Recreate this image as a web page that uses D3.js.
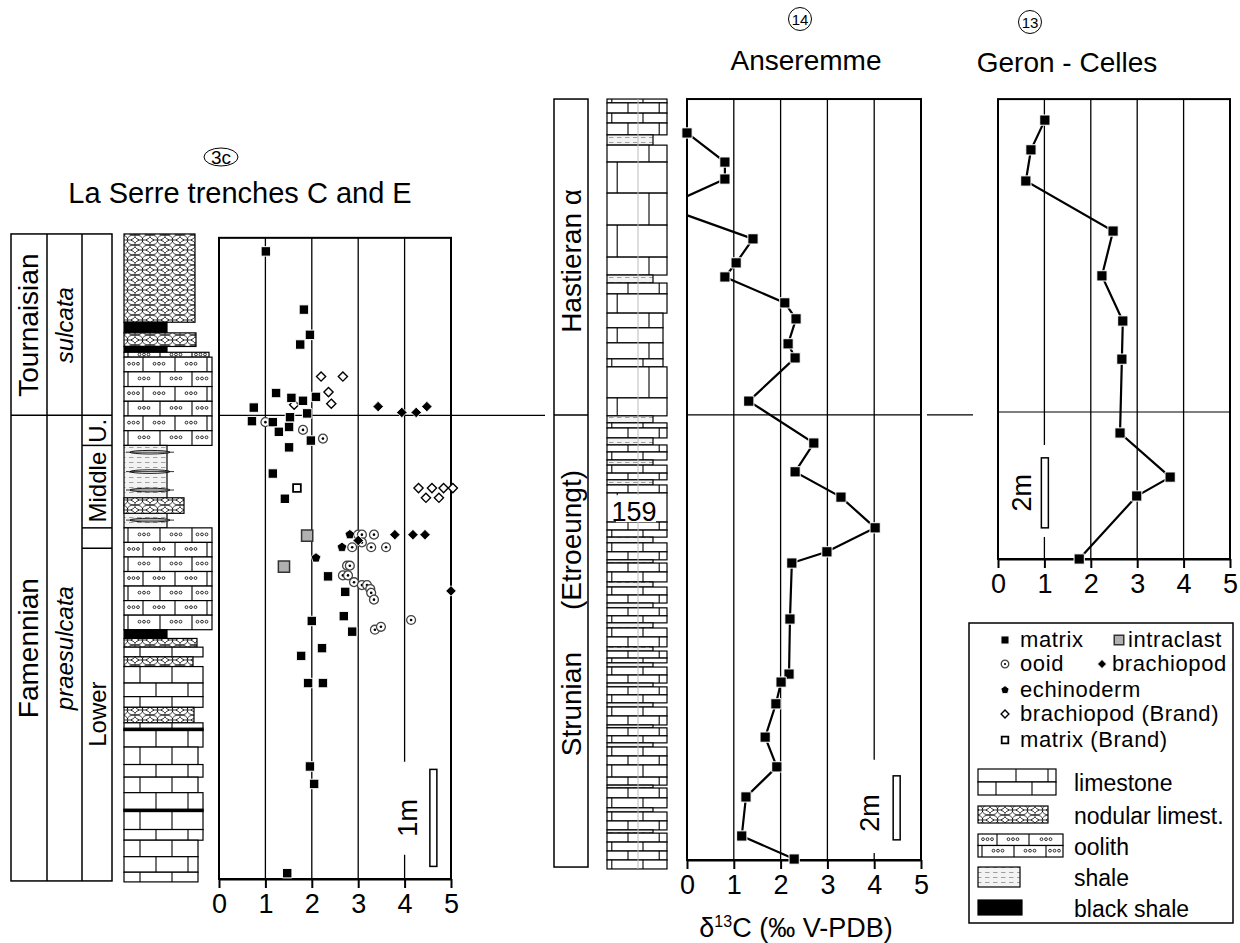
<!DOCTYPE html>
<html>
<head>
<meta charset="utf-8">
<script src="https://cdnjs.cloudflare.com/ajax/libs/d3/7.8.5/d3.min.js"></script>
<style>
  body { margin: 0; background: #fff; }
  svg text { font-family: "Liberation Sans", Arial, sans-serif; fill: #000; }
</style>
</head>
<body>
<script>
const xTicks = [0, 1, 2, 3, 4, 5];

// La Serre trenches C and E : [d13C permil, height m]
const lsMatrix = [[1.01,6.47],[1.83,5.87],[1.96,5.61],[1.75,5.51],[1.23,5.01],[1.56,4.96],[1.81,4.93],[2.09,4.97],
  [0.75,4.86],[0.71,4.72],[1.16,4.71],[1.53,4.76],[1.90,4.80],[1.51,4.66],[1.29,4.61],[1.98,4.52],[1.51,4.45],
  [1.16,4.18],[1.42,3.92],[2.35,3.12],[2.72,2.96],[2.69,2.71],[2.00,2.66],[2.87,2.55],[2.22,2.38],[1.77,2.30],
  [1.92,2.02],[2.24,2.02],[1.96,1.16],[2.05,0.98],[1.47,0.06]];
const lsIntraclast = [[1.90,3.54],[1.40,3.22]];
const lsMatrixBrand = [[1.68,4.03]];
const lsBrachBrand = [[2.20,5.18],[2.67,5.18],[2.36,5.02],[2.42,4.90],[1.62,4.89],[4.30,4.03],[4.59,4.03],
  [4.84,4.03],[5.04,4.03],[4.46,3.93],[4.74,3.93]];
const lsBrachiopod = [[3.43,4.87],[3.94,4.81],[4.25,4.81],[4.48,4.87],[3.79,3.55],[4.18,3.55],[4.44,3.55],[5.0,2.97],[3.0,3.49]];
const lsEchinoderm = [[2.82,3.55],[2.65,3.42],[2.09,3.31]];
const lsOoid = [[1.0,4.71],[1.81,4.63],[2.24,4.54],[3.0,3.55],[3.08,3.55],[3.34,3.55],[2.87,3.42],[3.08,3.47],
  [3.28,3.42],[3.60,3.42],[2.76,3.23],[2.82,3.23],[2.67,3.13],[2.78,3.13],[2.91,3.06],[3.08,3.03],[3.19,3.03],
  [3.26,2.99],[3.28,2.95],[3.34,2.88],[4.14,2.67],[3.36,2.57],[3.49,2.60]];

// Anseremme : [d13C, height m]  (fourth point lies off the chart, left of 0)
const anseData = [[0,22.72],[0.81,21.81],[0.81,21.28],[-0.5,20.41],[1.41,19.41],[1.05,18.66],[0.81,18.22],
  [2.09,17.41],[2.33,16.91],[2.16,16.13],[2.31,15.69],[1.32,14.34],[2.71,13.03],[2.31,12.13],[3.29,11.34],
  [4.02,10.38],[2.99,9.63],[2.24,9.28],[2.20,7.53],[2.18,5.81],[2.01,5.56],[1.90,4.88],[1.67,3.84],[1.92,2.91],
  [1.26,1.97],[1.17,0.75],[2.29,0.03]];

// Geron - Celles : [d13C, height m]
const geronData = [[1.01,12.54],[0.71,11.69],[0.60,10.80],[2.48,9.37],[2.24,8.09],[2.69,6.80],[2.67,5.71],
  [2.63,3.60],[3.71,2.34],[2.99,1.80],[1.75,0]];

// La Serre lithology : [lithology, top m, base m, profile]
const lsBeds = [
  ["nodular",6.65,5.74,3.55],["black",5.74,5.63,2.15],["nodular",5.63,5.49,3.6],["black",5.49,5.43,2.15],
  ["oolith",5.43,5.38,4.25],["oolith",5.38,4.47,4.4],["shale",4.47,3.62,2.15],["nodular",3.93,3.77,3.0],
  ["oolith",3.62,2.57,4.4],["black",2.57,2.48,2.15],["nodular",2.48,2.39,3.65],["limestone",2.39,2.29,3.95],
  ["nodular",2.29,2.19,3.45],["limestone",2.19,2.02,3.95],["limestone",2.02,1.88,3.95],["limestone",1.88,1.77,3.95],
  ["nodular",1.77,1.61,3.5],["limestone",1.61,1.54,3.95],["limestone",1.54,1.36,3.95],["limestone",1.36,1.18,3.7],
  ["limestone",1.18,1.05,3.95],["limestone",1.05,0.89,3.7],["limestone",0.89,0.71,3.95],["limestone",0.71,0.51,3.95],
  ["limestone",0.51,0.40,3.95],["limestone",0.40,0.23,3.7],["limestone",0.23,0.07,3.7],["limestone",0.07,-0.03,3.7],
  ["black",1.555,1.53,3.95],["black",0.72,0.695,3.95]];
const lsLenses = [4.40, 4.20, 4.01, 3.70];

// Anseremme lithology : bedding planes (m) and shale intervals [top, base]
const anseLevels = [23.78,23.66,23.34,23.03,22.66,22.34,21.81,20.84,19.84,18.84,18.28,18.03,17.69,17.09,16.63,16.16,
  15.66,15.41,14.44,13.88,13.66,13.5,13.19,12.97,12.75,12.5,12.34,12.09,11.88,11.72,11.47,10.56,10.31,10.09,9.91,
  9.63,9.38,9.28,9.0,8.69,8.53,8.28,8.03,7.88,7.63,7.41,7.25,6.97,6.66,6.53,6.31,6.16,6.03,5.78,5.53,5.41,5.16,
  4.91,4.78,4.5,4.22,4.13,3.88,3.66,3.53,3.25,2.97,2.59,2.34,2.25,1.94,1.63,1.5,1.22,0.94,0.84,0.56,0.28,0,-0.28];
const anseShale = [[22.66,22.34],[18.28,18.03],[13.88,13.66],[13.19,12.97],[12.5,12.34],[11.88,11.72],[10.09,9.91],
  [9.38,9.28],[8.69,8.53],[8.03,7.88],[7.41,7.25],[6.66,6.53],[6.16,6.03],[5.53,5.41],[4.91,4.78],[4.22,4.13],
  [3.66,3.53],[2.34,2.25],[1.63,1.5],[0.94,0.84]];
const anseNarrow = [17.09, 15.41];

const legendPoints = [
  ["matrix","matrix",0,0],["intraclast","intraclast",1,0],["ooid","ooid",0,1],["brachiopod","brachiopod",1,1],
  ["echinoderm","echinoderm",0,2],["brachBrand","brachiopod (Brand)",0,3],["matrixBrand","matrix (Brand)",0,4]];
const legendLith = [["limestone","limestone"],["nodular","nodular limest."],["oolith","oolith"],["shale","shale"],["black","black shale"]];

// ---------------------------------------------------------------
const svg = d3.select("body").append("svg").attr("width", 1240).attr("height", 943);
const defs = svg.append("defs");

const nod = defs.append("pattern").attr("id", "nodular").attr("patternUnits", "userSpaceOnUse")
  .attr("width", 15).attr("height", 10);
nod.append("rect").attr("width", 15).attr("height", 10).attr("fill", "#fff");
[[7.5,5],[0,0],[15,0],[0,10],[15,10]].forEach(([cx, cy]) => {
  nod.append("ellipse").attr("cx", cx).attr("cy", cy).attr("rx", 8).attr("ry", 5.3)
    .attr("fill", "none").attr("stroke", "#000").attr("stroke-width", 0.8);
});
const sh = defs.append("pattern").attr("id", "shale").attr("patternUnits", "userSpaceOnUse")
  .attr("width", 8).attr("height", 5);
sh.append("rect").attr("width", 8).attr("height", 5).attr("fill", "#f3f3f3");
sh.append("line").attr("x1", 1).attr("x2", 5.5).attr("y1", 2.5).attr("y2", 2.5)
  .attr("stroke", "#8a8a8a").attr("stroke-width", 0.8);

const rhombus = { draw(ctx, size) { const r = Math.sqrt(size / 2);
  ctx.moveTo(0, -r); ctx.lineTo(r, 0); ctx.lineTo(0, r); ctx.lineTo(-r, 0); ctx.closePath(); } };
const pentagon = { draw(ctx, size) { const r = Math.sqrt(size / 2.378);
  for (let i = 0; i < 5; i++) { const a = -Math.PI / 2 + i * 2 * Math.PI / 5;
    i ? ctx.lineTo(r * Math.cos(a), r * Math.sin(a)) : ctx.moveTo(r * Math.cos(a), r * Math.sin(a)); }
  ctx.closePath(); } };

const markerStyle = {
  matrix:      { type: d3.symbolSquare, size: 90, fill: "#000", stroke: "#fff", sw: 1 },
  intraclast:  { type: d3.symbolSquare, size: 125, fill: "#b0b0b0", stroke: "#333", sw: 1.5 },
  ooid:        { type: d3.symbolCircle, size: 62, fill: "#fff", stroke: "#444", sw: 1.3, dot: true },
  brachiopod:  { type: rhombus, size: 55, fill: "#000", stroke: "#fff", sw: 0.8 },
  echinoderm:  { type: pentagon, size: 62, fill: "#000", stroke: "#fff", sw: 0.8 },
  brachBrand:  { type: rhombus, size: 42, fill: "#fff", stroke: "#000", sw: 1.4 },
  matrixBrand: { type: d3.symbolSquare, size: 60, fill: "#fff", stroke: "#000", sw: 1.8 }
};

function drawMarkers(g, data, kind, x, y, k = 1) {
  const st = markerStyle[kind];
  const sel = g.append("g").selectAll("g").data(data).join("g")
    .attr("transform", d => `translate(${x(d[0])},${y(d[1])})`);
  sel.append("path").attr("d", d3.symbol(st.type, st.size * k * k))
    .attr("fill", st.fill).attr("stroke", st.stroke).attr("stroke-width", st.sw);
  if (st.dot) sel.append("circle").attr("r", 1.3 * k).attr("fill", "#000");
}

function hText(g, x, y, str, size, anchor = "middle") {
  return g.append("text").attr("x", x).attr("y", y).attr("text-anchor", anchor)
    .style("font-size", size + "px").text(str);
}
function vText(g, x, y, str, size, italic) {
  return g.append("text").attr("transform", `translate(${x},${y}) rotate(-90)`)
    .attr("text-anchor", "middle").attr("dominant-baseline", "central")
    .style("font-size", size + "px").style("font-style", italic ? "italic" : null).text(str);
}

// brick beds -------------------------------------------------------
function brickRow(g, x, y0, y1, w, joints, dots) {
  g.append("rect").attr("x", x).attr("y", y0).attr("width", w).attr("height", y1 - y0)
    .attr("fill", "#fff").attr("stroke", "#000").attr("stroke-width", 1.2);
  joints.forEach(jx => g.append("line").attr("x1", jx).attr("x2", jx).attr("y1", y0).attr("y2", y1)
    .attr("stroke", "#000").attr("stroke-width", 1.1));
  if (dots) {
    const edges = [x, ...joints, x + w];
    for (let i = 0; i < edges.length - 1; i++) {
      if (edges[i + 1] - edges[i] < 10) continue;
      const cx = (edges[i] + edges[i + 1]) / 2;
      [-4.5, 0, 4.5].forEach(o => g.append("circle").attr("cx", cx + o).attr("cy", y0 + (y1 - y0) * 0.45)
        .attr("r", 1.4).attr("fill", "#fff").attr("stroke", "#000").attr("stroke-width", 0.8));
    }
  }
}
function jointsFor(x, w, brick, phase) {
  const xs = [];
  for (let jx = x + phase; jx < x + w - 3; jx += brick) if (jx > x + 3) xs.push(jx);
  return xs;
}

function drawLith(g, kind, x, y0, y1, w, row) {
  if (kind === "limestone") {
    brickRow(g, x, y0, y1, w, jointsFor(x, w, 32, row % 2 ? 16 : 32), false);
  } else if (kind === "oolith") {
    const n = Math.max(1, Math.round((y1 - y0) / 15)), rh = (y1 - y0) / n;
    for (let i = 0; i < n; i++) {
      brickRow(g, x, y0 + i * rh, y0 + (i + 1) * rh, w, jointsFor(x, w, 32, (row + i) % 2 ? 19 : 4), true);
    }
  } else {
    const fill = kind === "nodular" ? "url(#nodular)" : kind === "shale" ? "url(#shale)" : "#000";
    g.append("rect").attr("x", x).attr("y", y0).attr("width", w).attr("height", Math.max(1, y1 - y0))
      .attr("fill", fill).attr("stroke", "#000").attr("stroke-width", 1.2);
  }
}

// panels -------------------------------------------------------------
const panels = {
  ls:    { x0: 219, x1: 451, yBase: 879, hTop: 6.61, pxm: 97, gapAt: 4, gap: [1.21, 0.25],
           bar: [4.62, 1.13, 0.13], label: "1m", labelAt: [4.08, 0.63] },
  anse:  { x0: 687, x1: 921, yBase: 860, hTop: 23.78, pxm: 32, gapAt: 4, gap: [3.13, 0.22],
           bar: [4.48, 2.63, 0.63], label: "2m", labelAt: [3.92, 1.47] },
  geron: { x0: 998, x1: 1230, yBase: 559, hTop: 13.14, pxm: 35, gapAt: 1, gap: [3.26, 0.63],
           bar: [1.01, 2.89, 0.89], label: "2m", labelAt: [0.52, 1.89] }
};

function setupPanel(p) {
  p.x = d3.scaleLinear().domain([0, 5]).range([p.x0, p.x1]);
  p.y = d3.scaleLinear().domain([0, p.hTop]).range([p.yBase, p.yBase - p.hTop * p.pxm]);
  const g = svg.append("g");
  // grid
  xTicks.slice(1, -1).forEach(v => {
    const segs = v === p.gapAt ? [[p.hTop, p.gap[0]], [p.gap[1], 0]] : [[p.hTop, 0]];
    segs.forEach(([a, b]) => g.append("line").attr("x1", p.x(v)).attr("x2", p.x(v))
      .attr("y1", p.y(a)).attr("y2", p.y(b)).attr("stroke", "#000").attr("stroke-width", 1.3));
  });
  g.append("rect").attr("x", p.x0).attr("y", p.y(p.hTop)).attr("width", p.x1 - p.x0)
    .attr("height", p.y(0) - p.y(p.hTop)).attr("fill", "none").attr("stroke", "#000").attr("stroke-width", 2);
  const ax = g.append("g").attr("transform", `translate(0,${p.yBase})`)
    .call(d3.axisBottom(p.x).tickValues(xTicks).tickSize(9).tickSizeOuter(0).tickPadding(6).tickFormat(d3.format("d")));
  ax.attr("font-family", null).attr("font-size", null);
  ax.select(".domain").attr("stroke-width", 2);
  ax.selectAll(".tick line").attr("stroke-width", 2);
  ax.selectAll(".tick text").style("font-size", "27px");
  // scale bar
  g.append("rect").attr("x", p.x(p.bar[0]) - 3.5).attr("y", p.y(p.bar[1])).attr("width", 7)
    .attr("height", p.y(p.bar[2]) - p.y(p.bar[1])).attr("fill", "#fff").attr("stroke", "#000").attr("stroke-width", 1.5);
  vText(g, p.x(p.labelAt[0]), p.y(p.labelAt[1]), p.label, 27);
  p.g = g;
  return p;
}
Object.values(panels).forEach(setupPanel);

// ---------------------------------------------------------------- La Serre
const ls = panels.ls;
const lsCol = svg.append("g");
const colX = 124, profW = 20;
let limeRow = 0;
lsBeds.forEach(([kind, top, base, prof]) => {
  drawLith(lsCol, kind, colX, ls.y(top), ls.y(base), prof * profW, limeRow++);
});
lsLenses.forEach(h => {
  lsCol.append("ellipse").attr("cx", colX + 26).attr("cy", ls.y(h)).attr("rx", 20).attr("ry", 1.8)
    .attr("fill", "#fff").attr("stroke", "#000").attr("stroke-width", 0.9);
  lsCol.append("line").attr("x1", colX + 2).attr("x2", colX + 50).attr("y1", ls.y(h)).attr("y2", ls.y(h))
    .attr("stroke", "#000").attr("stroke-width", 0.8);
});

// stratigraphic units
const lsUnits = svg.append("g");
const bx = [11, 47, 82, 112];
lsUnits.append("rect").attr("x", bx[0]).attr("y", ls.y(6.65)).attr("width", bx[3] - bx[0])
  .attr("height", ls.y(-0.02) - ls.y(6.65)).attr("fill", "none").attr("stroke", "#000").attr("stroke-width", 1.5);
[bx[1], bx[2]].forEach(xv => lsUnits.append("line").attr("x1", xv).attr("x2", xv)
  .attr("y1", ls.y(6.65)).attr("y2", ls.y(-0.02)).attr("stroke", "#000").attr("stroke-width", 1.5));
[4.47, 3.62, 3.41].forEach(h => lsUnits.append("line").attr("x1", bx[2]).attr("x2", bx[3])
  .attr("y1", ls.y(h)).attr("y2", ls.y(h)).attr("stroke", "#000").attr("stroke-width", 1.5));
lsUnits.append("line").attr("x1", bx[0]).attr("x2", bx[3]).attr("y1", ls.y(4.78)).attr("y2", ls.y(4.78))
  .attr("stroke", "#000").attr("stroke-width", 1.5);
vText(lsUnits, 28, ls.y(5.71), "Tournaisian", 28);
vText(lsUnits, 28, ls.y(2.38), "Famennian", 28);
vText(lsUnits, 64, ls.y(5.71), "sulcata", 24, true);
vText(lsUnits, 64, ls.y(2.38), "praesulcata", 24, true);
vText(lsUnits, 97, ls.y(4.62), "U.", 24);
vText(lsUnits, 97, ls.y(4.04), "Middle", 24);
vText(lsUnits, 97, ls.y(1.70), "Lower", 24);

// boundary
ls.g.append("line").attr("x1", ls.x0).attr("x2", 545).attr("y1", ls.y(4.78)).attr("y2", ls.y(4.78))
  .attr("stroke", "#000").attr("stroke-width", 1.2);

const lsPts = ls.g.append("g");
drawMarkers(lsPts, lsOoid, "ooid", ls.x, ls.y);
drawMarkers(lsPts, lsBrachBrand, "brachBrand", ls.x, ls.y);
drawMarkers(lsPts, lsMatrixBrand, "matrixBrand", ls.x, ls.y);
drawMarkers(lsPts, lsEchinoderm, "echinoderm", ls.x, ls.y);
drawMarkers(lsPts, lsBrachiopod, "brachiopod", ls.x, ls.y);
drawMarkers(lsPts, lsIntraclast, "intraclast", ls.x, ls.y);
drawMarkers(lsPts, lsMatrix, "matrix", ls.x, ls.y);

// title
const t1 = svg.append("g");
t1.append("ellipse").attr("cx", 221).attr("cy", 157).attr("rx", 17).attr("ry", 9)
  .attr("fill", "none").attr("stroke", "#000").attr("stroke-width", 1);
hText(t1, 221, 164, "3c", 19);
hText(t1, 240, 203, "La Serre trenches C and E", 29);

// ---------------------------------------------------------------- Anseremme
const an = panels.anse;
const anCol = svg.append("g");
const acX = 607, acW = 60, acNarrowW = 56, acShaleW = 46;
for (let i = 0; i < anseLevels.length - 1; i++) {
  const top = anseLevels[i], base = anseLevels[i + 1], mid = (top + base) / 2;
  const y0 = an.y(top), y1 = an.y(base);
  if (anseShale.some(([a, b]) => mid < a && mid > b)) {
    drawLith(anCol, "shale", acX, y0, y1, acShaleW, i);
    continue;
  }
  const w = mid < anseNarrow[0] && mid > anseNarrow[1] ? acNarrowW : acW;
  const fr = (y1 - y0) > 13 ? (i % 2 ? [0.7] : [0.17]) : (i % 2 ? [0.35, 0.87] : [0.08, 0.6]);
  brickRow(anCol, acX, y0, y1, w, fr.map(f => acX + f * acW), false);
}
anCol.append("line").attr("x1", 638).attr("x2", 638).attr("y1", an.y(23.78)).attr("y2", an.y(-0.28))
  .attr("stroke", "#bbb").attr("stroke-width", 1);
anCol.append("rect").attr("x", 616).attr("y", an.y(11.4)).attr("width", 40).attr("height", 27).attr("fill", "#fff");
hText(anCol, 634, an.y(10.6), "159", 27);

const anUnits = svg.append("g");
anUnits.append("rect").attr("x", 554).attr("y", an.y(23.78)).attr("width", 34)
  .attr("height", an.y(-0.22) - an.y(23.78)).attr("fill", "none").attr("stroke", "#000").attr("stroke-width", 1.5);
anUnits.append("line").attr("x1", 554).attr("x2", 588).attr("y1", an.y(13.91)).attr("y2", an.y(13.91))
  .attr("stroke", "#000").attr("stroke-width", 1.5);
vText(anUnits, 571, an.y(18.72), "Hastieran α", 28);
vText(anUnits, 571, an.y(4.87), "Strunian", 28);
vText(anUnits, 571, an.y(10.0), "(Etroeungt)", 28);

an.g.append("line").attr("x1", an.x0).attr("x2", an.x1).attr("y1", an.y(13.91)).attr("y2", an.y(13.91))
  .attr("stroke", "#000").attr("stroke-width", 1.2);
an.g.append("line").attr("x1", 927).attr("x2", 973).attr("y1", an.y(13.91)).attr("y2", an.y(13.91))
  .attr("stroke", "#000").attr("stroke-width", 1.2);

defs.append("clipPath").attr("id", "anClip").append("rect").attr("x", an.x0).attr("y", an.y(an.hTop))
  .attr("width", an.x1 - an.x0).attr("height", an.y(0) - an.y(an.hTop) + 10);
const line = (p) => d3.line().x(d => p.x(d[0])).y(d => p.y(d[1]));
an.g.append("path").datum(anseData).attr("clip-path", "url(#anClip)").attr("d", line(an))
  .attr("fill", "none").attr("stroke", "#000").attr("stroke-width", 2.2);
drawMarkers(an.g, anseData.filter(d => d[0] >= 0 && d[0] <= 5), "matrix", an.x, an.y, 1.08);

const t2 = svg.append("g");
t2.append("circle").attr("cx", 800).attr("cy", 19).attr("r", 11.5).attr("fill", "none").attr("stroke", "#000").attr("stroke-width", 1);
hText(t2, 800, 25, "14", 15);
hText(t2, 806, 70, "Anseremme", 28);
hText(svg, 796, 937, "", 27).call(t => {
  t.append("tspan").text("δ");
  t.append("tspan").attr("dy", -10).style("font-size", "16px").text("13");
  t.append("tspan").attr("dy", 10).text("C (‰ V-PDB)");
});

// ---------------------------------------------------------------- Geron - Celles
const ge = panels.geron;
ge.g.append("line").attr("x1", ge.x0).attr("x2", ge.x1).attr("y1", ge.y(4.2)).attr("y2", ge.y(4.2))
  .attr("stroke", "#000").attr("stroke-width", 1.2);
ge.g.append("path").datum(geronData).attr("d", line(ge)).attr("fill", "none").attr("stroke", "#000").attr("stroke-width", 2.2);
drawMarkers(ge.g, geronData, "matrix", ge.x, ge.y, 1.08);
const t3 = svg.append("g");
t3.append("circle").attr("cx", 1030).attr("cy", 22).attr("r", 11.5).attr("fill", "none").attr("stroke", "#000").attr("stroke-width", 1);
hText(t3, 1030, 28, "13", 15);
hText(t3, 1067, 72, "Geron - Celles", 28);

// ---------------------------------------------------------------- legend
const lg = svg.append("g");
lg.append("rect").attr("x", 969).attr("y", 623).attr("width", 264).attr("height", 300)
  .attr("fill", "#fff").attr("stroke", "#000").attr("stroke-width", 1.5);
const colMx = [1005, 1119], colTx = [1020, 1128], rowBase = [647, 671, 697, 721, 747];
const colMx2 = { brachiopod: 1102 }, colTx2 = { brachiopod: 1112 };
legendPoints.forEach(([kind, label, c, r]) => {
  const mx = colMx2[kind] || colMx[c], tx = colTx2[kind] || colTx[c];
  drawMarkers(lg, [[mx, rowBase[r] - 7]], kind, d => d, d => d, 0.85);
  hText(lg, tx, rowBase[r], label, 22, "start").style("letter-spacing", "0.6px");
});
const swatch = { limestone: [769, 795, 78], nodular: [806, 823, 70], oolith: [834, 857, 85], shale: [867, 887, 42], black: [900, 915, 44] };
legendLith.forEach(([kind, label]) => {
  const [y0, y1, w] = swatch[kind];
  if (kind === "limestone") {
    brickRow(lg, 978, y0, (y0 + y1) / 2, w, [978 + 38, 978 + 70], false);
    brickRow(lg, 978, (y0 + y1) / 2, y1, w, [978 + 18, 978 + 54], false);
  } else if (kind === "oolith") {
    drawLith(lg, "oolith", 978, y0, y1, w, 1);
  } else {
    drawLith(lg, kind, 978, y0, y1, w, 0);
  }
  hText(lg, 1074, (y0 + y1) / 2 + 9, label, 23, "start");
});
</script>
</body>
</html>
